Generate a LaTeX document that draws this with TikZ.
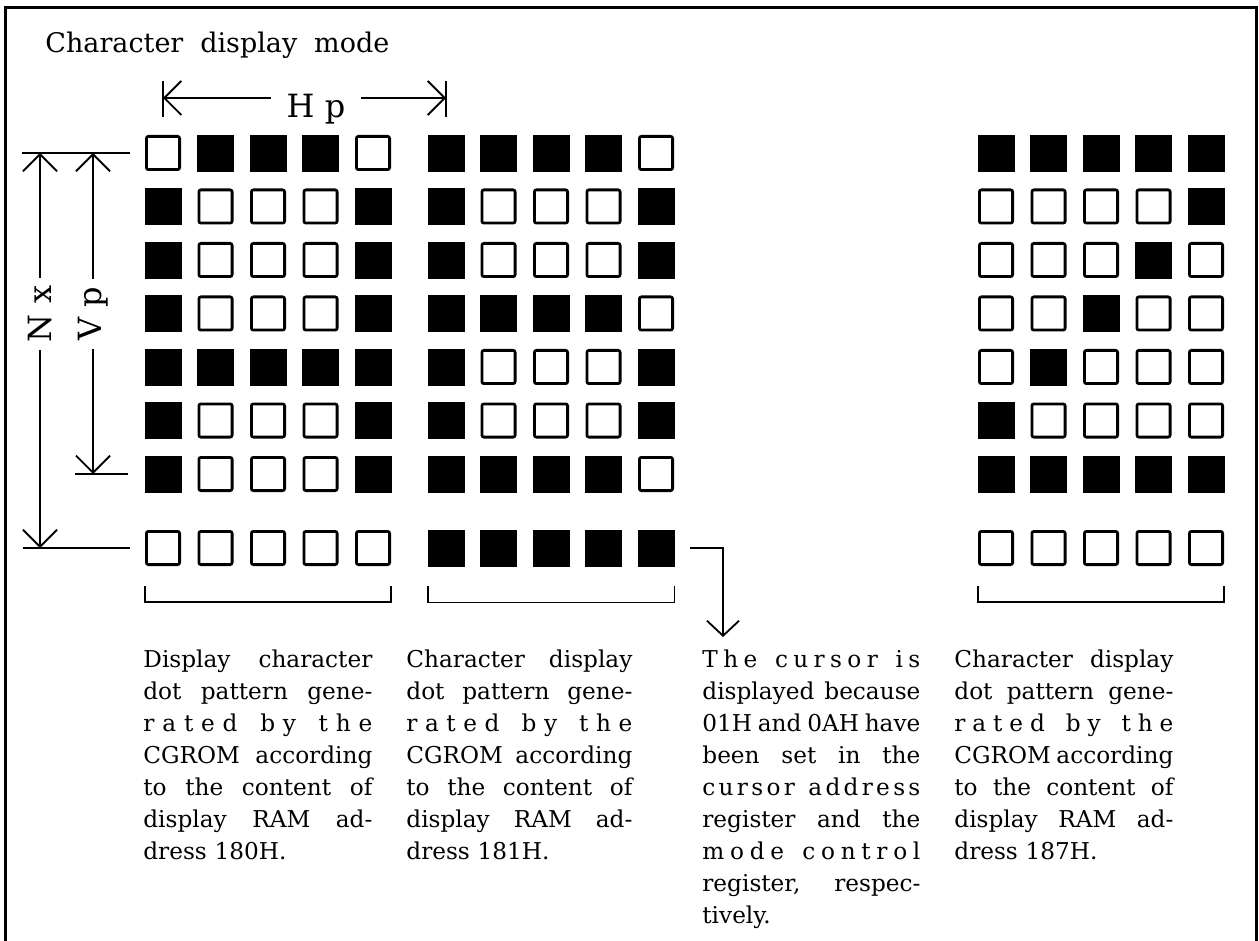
\documentclass[tikz,border=0pt]{standalone}
\usepackage{fontspec}
\setmainfont{DejaVu Serif}
\usetikzlibrary{positioning,arrows.meta,calc}

\tikzset{
  dot0/.style={draw,line width=1.4pt,rounded corners=1pt,minimum size=16.6pt,inner sep=0pt},
  dot1/.style={draw,fill=black,line width=.4pt,minimum size=18pt,inner sep=0pt},
  ext/.style={line width=.9pt},
  dimline/.style={line width=.9pt,{Straight Barb[length=8.5pt,width=17pt]}-{Straight Barb[length=8.5pt,width=17pt]}},
  curarrow/.style={line width=.9pt,-{Straight Barb[length=7.5pt,width=16pt]}},
  dimlabel/.style={fill=white,font=\fontsize{16}{16}\selectfont,inner ysep=1pt},
  note/.style={anchor=base west,inner sep=0pt,align=left,font=\fontsize{11.6}{16}\selectfont},
  frame/.style={line width=1.5pt}
}
% justified line: spaces stretch to the column width
\newcommand\jl[1]{{\spaceskip=.3em plus 1fil minus .1em\makebox[\hsize][s]{#1}}}
% one 5x8 dot matrix: left edge, name, rows (1 = dot on)
\newcommand\dotgrid[3]{%
  \foreach \pa/\pb/\pc/\pd/\pe [count=\rw] in {#3}{
    \pgfmathsetmacro\yy{\rw<8 ? 153+(\rw-1)*53.5 : 548}
    \foreach \v [count=\cl] in {\pa,\pb,\pc,\pd,\pe}{
      \pgfmathsetmacro\xx{#1+18+(\cl-1)*52.5}
      \node[dot\v] (#2-\rw-\cl) at (\xx,\yy) {};
    }
  }%
}

\begin{document}
\begin{tikzpicture}[x=0.5pt,y=-0.5pt]
\useasboundingbox (0,0) rectangle (1259,941);
\draw[frame] (5,941) -- (5,8) -- (1256,8) -- (1256,941);

\node[anchor=base west,inner sep=0pt,font=\fontsize{13.5}{13.5}\selectfont] (title) at (45,53)
  {\makebox[172pt][s]{Character display mode}};

% the three characters
\dotgrid{145}{c180}{0/1/1/1/0,1/0/0/0/1,1/0/0/0/1,1/0/0/0/1,1/1/1/1/1,1/0/0/0/1,1/0/0/0/1,0/0/0/0/0}
\dotgrid{428}{c181}{1/1/1/1/0,1/0/0/0/1,1/0/0/0/1,1/1/1/1/0,1/0/0/0/1,1/0/0/0/1,1/1/1/1/0,1/1/1/1/1}
\dotgrid{978}{c187}{1/1/1/1/1,0/0/0/0/1,0/0/0/1/0,0/0/1/0/0,0/1/0/0/0,1/0/0/0/0,1/1/1/1/1,0/0/0/0/0}

% Hp
\coordinate (hpl) at (c180-1-1 |- 0,98);
\coordinate (hpr) at (c181-1-1 |- 0,98);
\draw[ext] (c180-1-1 |- 0,81) -- (c180-1-1 |- 0,117);
\draw[ext] (c181-1-1 |- 0,81) -- (c181-1-1 |- 0,117);
\draw[dimline] (hpl) -- (hpr);
\node[dimlabel,anchor=base,inner xsep=8pt] (hp) at (316,118) {H p};

% Nx and Vp
\coordinate (nxtop) at (40,0 |- c180-1-1);
\coordinate (nxbot) at (40,0 |- c180-8-1);
\coordinate (vptop) at (93,0 |- c180-1-1);
\coordinate (vpbot) at (93,0 |- c180-7-1);
\draw[ext] (22,0 |- c180-1-1) -- ($(c180-1-1.west)+(-15,0)$);
\draw[ext] (75,0 |- c180-7-1) -- ($(c180-7-1.west)+(-17,0)$);
\draw[ext] (23,0 |- c180-8-1) -- ($(c180-8-1.west)+(-15,0)$);
\draw[dimline] (nxtop) -- (nxbot);
\draw[dimline] (vptop) -- (vpbot);
\node[dimlabel,rotate=90,inner xsep=4pt] (nx) at (40,314) {N x};
\node[dimlabel,rotate=90,inner xsep=4pt] (vp) at (93,314) {V p};

% brackets
\foreach \g in {c180,c181,c187}
  \draw[ext] ($(\g-8-1.south west)+(0,20)$) -- ++(0,16) -| ($(\g-8-5.south east)+(0,20)$);

% notes
\node[note,text width=114.5pt] (txt180) at (143,667) {%
\jl{Display character}\\
\jl{dot pattern gene-}\\
\jl{r\hfil a\hfil t\hfil e\hfil d \hfil b\hfil y \hfil t\hfil h\hfil e}\\
\jl{CGROM according}\\
\jl{to the content of}\\
\jl{display RAM ad-}\\
dress 180H.};
\node[note,text width=113pt] (txt181) at (406,667) {%
\jl{Character display}\\
\jl{dot pattern gene-}\\
\jl{r\hfil a\hfil t\hfil e\hfil d \hfil b\hfil y \hfil t\hfil h\hfil e}\\
\jl{CGROM according}\\
\jl{to the content of}\\
\jl{display RAM ad-}\\
dress 181H.};
\node[note,text width=109pt] (txtcur) at (702,667) {%
\jl{T\hfil h\hfil e \hfil c\hfil u\hfil r\hfil s\hfil o\hfil r \hfil i\hfil s}\\
\jl{displayed because}\\
\jl{01H and 0AH have}\\
\jl{been set in the}\\
\jl{c\hfil u\hfil r\hfil s\hfil o\hfil r \hfil a\hfil d\hfil d\hfil r\hfil e\hfil s\hfil s}\\
\jl{register and the}\\
\jl{m\hfil o\hfil d\hfil e \hfil c\hfil o\hfil n\hfil t\hfil r\hfil o\hfil l}\\
\jl{register, respec-}\\
tively.};
\node[note,text width=109.5pt] (txt187) at (954,667) {%
\jl{Character display}\\
\jl{dot pattern gene-}\\
\jl{r\hfil a\hfil t\hfil e\hfil d \hfil b\hfil y \hfil t\hfil h\hfil e}\\
\jl{CGROM according}\\
\jl{to the content of}\\
\jl{display RAM ad-}\\
dress 187H.};

% cursor line
\coordinate (curtip) at (723,637);
\draw[curarrow] ($(c181-8-5.east)+(16,0)$) -| (curtip);
\end{tikzpicture}
\end{document}
